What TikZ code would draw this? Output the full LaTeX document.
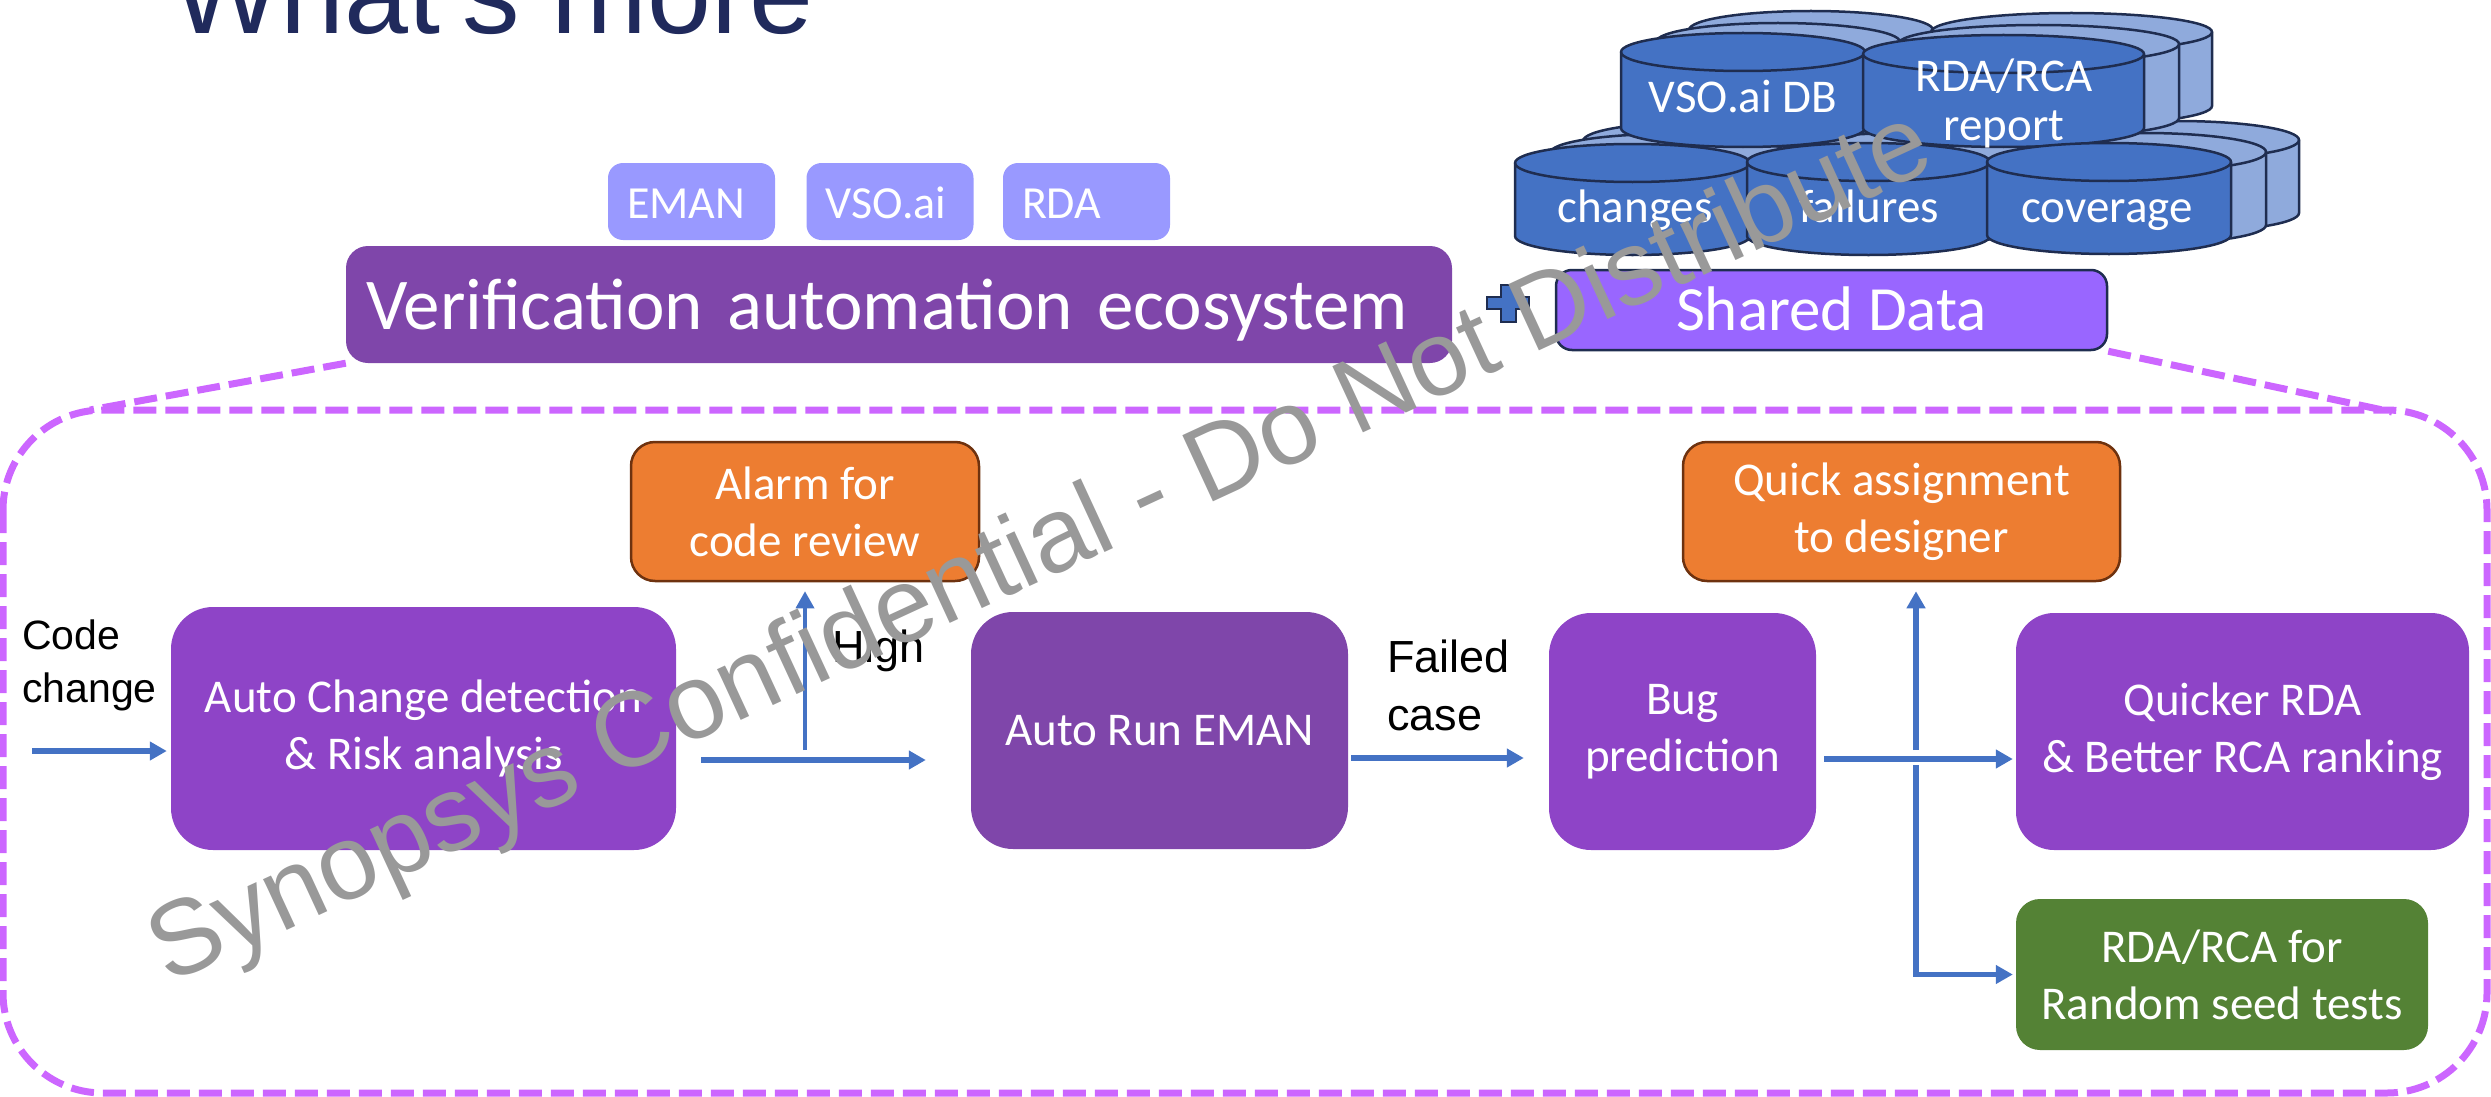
\documentclass[tikz,border=0pt]{standalone}
\usepackage{fontspec}
\setmainfont{Carlito}
\newfontfamily\arialfont{Liberation Sans}
\usetikzlibrary{arrows.meta}
\definecolor{navy}{RGB}{32,42,92}
\definecolor{purpA}{RGB}{142,68,199}
\definecolor{purpB}{RGB}{127,70,170}
\definecolor{lav}{RGB}{153,153,255}
\definecolor{violet}{RGB}{153,102,255}
\definecolor{orng}{RGB}{237,125,49}
\definecolor{orngedge}{RGB}{110,50,15}
\definecolor{grn}{RGB}{84,130,53}
\definecolor{dbfront}{RGB}{68,114,196}
\definecolor{dbback}{RGB}{143,170,220}
\definecolor{dbedge}{RGB}{31,45,80}
\definecolor{arrowc}{RGB}{68,114,196}
\definecolor{dashc}{RGB}{204,102,255}
\definecolor{wmgray}{RGB}{153,153,153}
% cylinder: left, right, top-ellipse centre y, bottom-ellipse centre y, fill
\newcommand{\dbcyl}[5]{%
  \pgfmathsetmacro{\dbrx}{((#2)-(#1))/2}%
  \filldraw[fill=#5, dbline] (#1,#3) -- (#1,#4)
     arc[start angle=180, end angle=0, x radius=\dbrx, y radius=19]
     -- (#2,#3)
     arc[start angle=0, end angle=-180, x radius=\dbrx, y radius=19] -- cycle;
  \draw[dbline] (#1,#3) arc[start angle=180, end angle=0, x radius=\dbrx, y radius=19];
}
\newcommand{\dbcopies}[4]{%
  \dbcyl{#1+68}{#2+68}{#3-22}{#4-22}{dbback}%
  \dbcyl{#1+35}{#2+35}{#3-10}{#4-10}{dbback}%
}
\begin{document}
\begin{tikzpicture}[x=1pt,y=-1pt,
  dashln/.style={draw=dashc, line width=7pt, dash pattern=on 23pt off 9pt},
  pbig/.style={rounded corners=42pt, inner sep=0pt, text=white, align=center,
               font=\fontsize{47pt}{57pt}\selectfont},
  pmid/.style={rounded corners=24pt, inner sep=0pt, text=white, align=center,
               font=\fontsize{47pt}{57pt}\selectfont},
  sbox/.style={fill=lav, rounded corners=15pt, minimum height=77pt, text width=129pt,
               inner xsep=19pt, inner ysep=0pt, align=left, text height=33pt, text depth=0pt,
               text=white, font=\fontsize{46pt}{50pt}\selectfont},
  dbline/.style={draw=dbedge, line width=2.5pt},
  dbtxt/.style={text=white, inner sep=0pt, align=center, font=\fontsize{47pt}{49pt}\selectfont},
  arr/.style={draw=arrowc, line width=5.5pt, -{Triangle[length=17pt,width=18pt]}},
  lbl/.style={inner sep=0pt, text=black, align=left}
]
\useasboundingbox (0,0) rectangle (2491,1097);
\clip (0,0) rectangle (2491,1097);

% outer dashed region
\draw[dashln, rounded corners=100pt] (3,410) rectangle (2487,1093);

% title
\node[inner sep=0pt, anchor=base west, text=navy, font=\arialfont\fontsize{115pt}{120pt}\selectfont]
  (title) at (172,34) {What's more};

% tool boxes
\node[sbox] (t1) at (691.5,201.5) {EMAN};
\node[sbox] (t2) at (890,201.5) {VSO.ai};
\node[sbox] (t3) at (1086.5,201.5) {RDA};

% verification ecosystem
\node[fill=purpB, rounded corners=22pt, minimum height=117pt, text width=1066pt,
      inner xsep=20pt, inner ysep=0pt, align=left, text=white, text height=50pt, text depth=1pt,
      font=\fontsize{73pt}{80pt}\selectfont] (ver) at (899,304.5) {Verification automation ecosystem};

% shared data
\node[fill=violet, draw=dbedge, line width=2.5pt, rounded corners=16pt, minimum width=551pt,
      minimum height=80pt, inner sep=0pt, text=white, text height=42pt, text depth=2pt,
      font=\fontsize{63pt}{70pt}\selectfont] (sd) at (1831.5,310) {Shared Data};

% plus sign
\filldraw[fill=dbfront, draw=dbedge, line width=2pt]
  (1487,297) -- (1500.5,297) -- (1500.5,285) -- (1515.5,285) -- (1515.5,297) -- (1529,297)
  -- (1529,309) -- (1515.5,309) -- (1515.5,322) -- (1500.5,322) -- (1500.5,309) -- (1487,309) -- cycle;

% trapezoid dashed connectors
\coordinate (tl) at (90,410);
\coordinate (tr) at (2392,412);
\draw[dashln] (ver.south west) -- (tl);
\draw[dashln] (sd.south east) -- (tr);

% databases
\dbcopies{1515}{1750}{163}{236}
\dbcopies{1747}{1990}{162}{236}
\dbcopies{1987}{2231}{162}{235}
\dbcopies{1621}{1865}{52}{128}
\dbcyl{1621}{1865}{52}{128}{dbfront}
\dbcopies{1863}{2144}{54}{128}
\dbcyl{1863}{2144}{54}{128}{dbfront}
\dbcyl{1515}{1750}{163}{236}{dbfront}
\dbcyl{1747}{1990}{162}{236}{dbfront}
\dbcyl{1987}{2231}{162}{235}{dbfront}
\node[dbtxt, anchor=base] (dbvso) at (1743,113) {VSO.ai DB};
\node[dbtxt] (dbrda) at (2004,103) {RDA/RCA\\report};
\node[dbtxt, anchor=base] (dbchg) at (1635,222) {changes};
\node[dbtxt, anchor=base] (dbfail) at (1869,222) {failures};
\node[dbtxt, anchor=base] (dbcov) at (2107,222) {coverage};

% main flow boxes
\node[pbig, fill=purpA, minimum width=505pt, minimum height=243pt] (acd) at (423.5,728.5)
  {Auto Change detection\\\& Risk analysis};
\node[pbig, fill=purpB, minimum width=377pt, minimum height=237pt] (eman) at (1159.5,730.5)
  {Auto Run EMAN};
\node[pbig, fill=purpA, minimum width=267pt, minimum height=237pt] (bug) at (1682.5,731.5)
  {Bug\\prediction};
\node[pbig, fill=purpA, rounded corners=38pt, minimum width=453pt, minimum height=237pt] (qrda) at (2242.5,731.5)
  {Quicker RDA\\\& Better RCA ranking};
\node[pmid, fill=grn, minimum width=412pt, minimum height=151pt] (rnd) at (2222,974.5)
  {RDA/RCA for\\Random seed tests};
\node[pmid, fill=orng, draw=orngedge, line width=2.5pt, minimum width=348pt, minimum height=139pt] (alarm) at (805,511.5)
  {Alarm for\\code review};
\node[pmid, fill=orng, draw=orngedge, line width=2.5pt, minimum width=437pt, minimum height=139pt] (qa) at (1901.5,511.5)
  {Quick assignment\\to designer};

% labels
\node[lbl, anchor=west, font=\arialfont\fontsize{41pt}{53pt}\selectfont] (cc) at (22,665) {Code\\change};
\node[lbl, anchor=west, font=\arialfont\fontsize{45pt}{54pt}\selectfont] (high) at (832,651) {High};
\node[lbl, anchor=west, font=\arialfont\fontsize{45pt}{58pt}\selectfont] (fc) at (1387,685.5) {Failed\\case};

% arrows
\coordinate (ccs) at (32,751);
\coordinate (yH) at (0,760);
\coordinate (yF) at (0,758);
\coordinate (yQ) at (0,759);
\coordinate (hv) at (805,750);
\coordinate (sp1) at (1916,750);
\coordinate (sp2) at (1916,765);
\draw[arr, shorten >=4pt] (ccs) -- (acd.west |- ccs);
\draw[arr, shorten <=25pt, shorten >=45pt] (acd.east |- yH) -- (eman.west |- yH);
\draw[arr, line width=3.5pt, shorten >=9pt] (hv) -- (alarm.south);
\draw[arr, shorten <=3pt, shorten >=25pt] (eman.east |- yF) -- (bug.west |- yF);
\draw[arr, shorten <=8pt, shorten >=3pt] (bug.east |- yQ) -- (qrda.west |- yQ);
\draw[arr, shorten >=9pt] (sp1) -- (qa.south -| sp1);
\draw[arr, shorten >=3pt] (sp2) |- (rnd.west);

% watermark
\node[inner sep=0pt, anchor=base west, rotate=24.8, text=wmgray,
      font=\arialfont\fontsize{106pt}{110pt}\selectfont] (wm) at (168,985)
  {Synopsys Confidential - Do Not Distribute};
\end{tikzpicture}
\end{document}
